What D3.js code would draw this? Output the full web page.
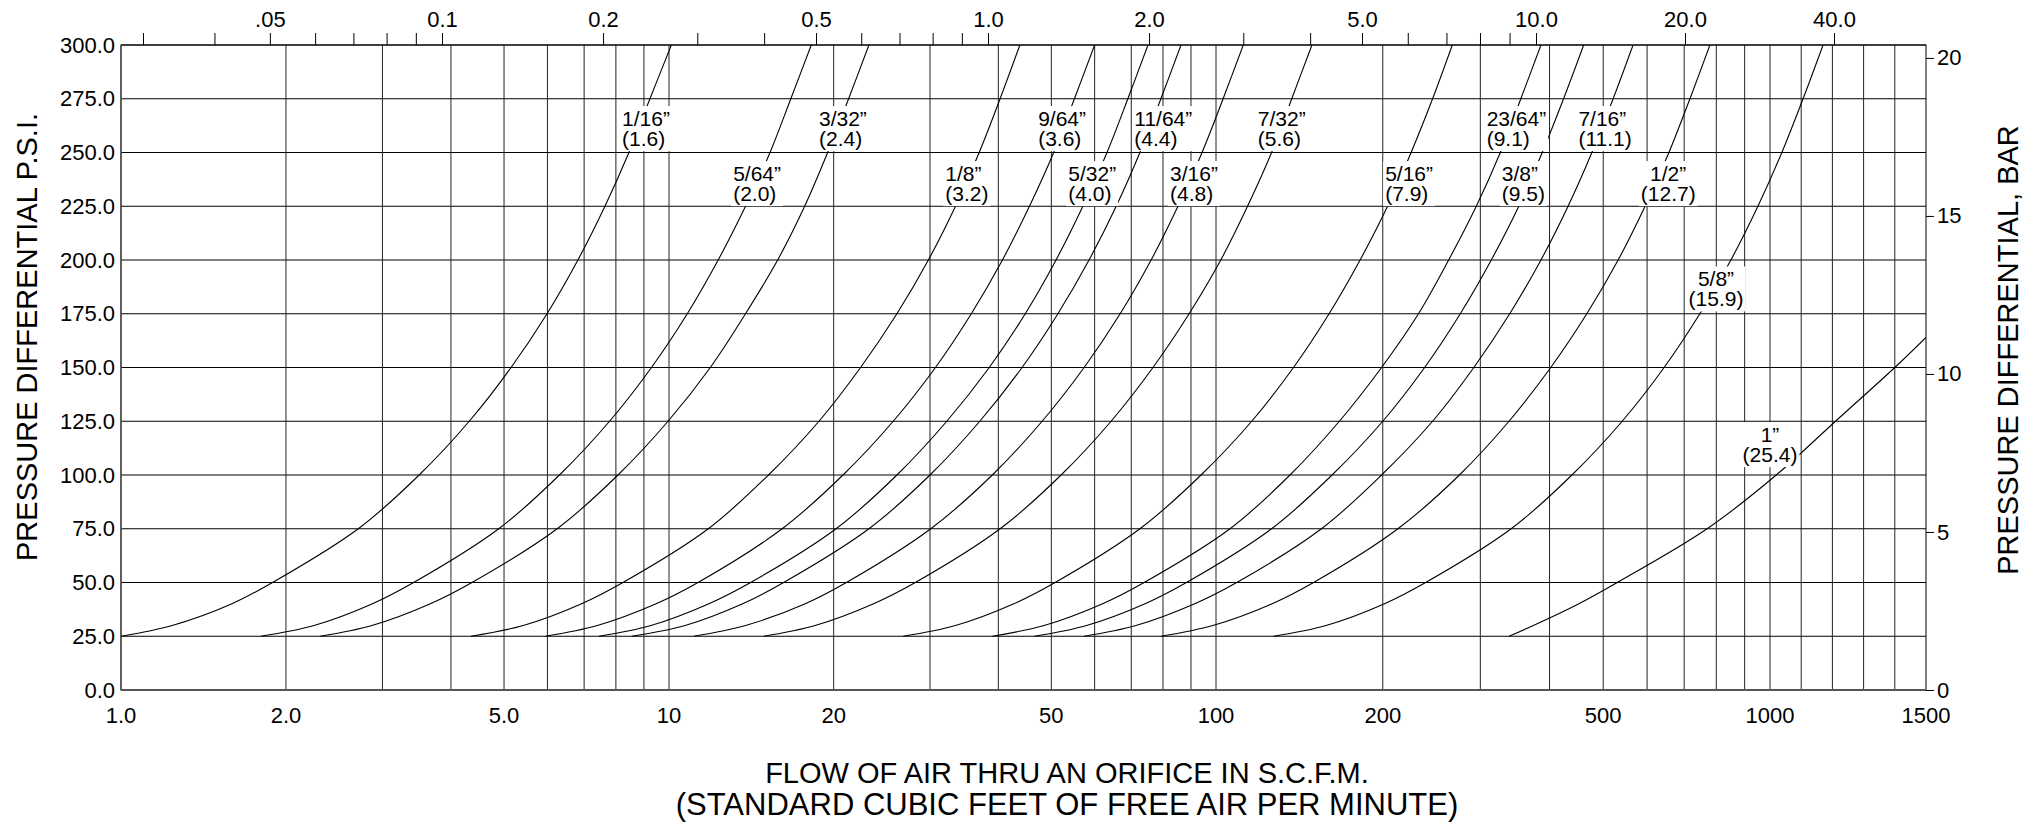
<!DOCTYPE html>
<html>
<head>
<meta charset="utf-8">
<script src="https://cdn.jsdelivr.net/npm/d3@7"></script>
<style>
    body { margin: 0; background: #fff; }
    svg { display: block; }
    text { font-family: "Liberation Sans", Arial, Helvetica, sans-serif; fill: #000; }
</style>
</head>
<body>
<div id="chart"></div>
<script>
var psiLevels = [25, 30, 40, 50, 75, 100, 125, 150, 175, 200, 225, 250, 275, 300];

var orificeSizes = ["1/16”", "5/64”", "3/32”", "1/8”", "9/64”", "5/32”", "11/64”", "3/16”",
    "7/32”", "5/16”", "23/64”", "3/8”", "7/16”", "1/2”", "5/8”", "1”"];
var orificeMM = ["(1.6)", "(2.0)", "(2.4)", "(3.2)", "(3.6)", "(4.0)", "(4.4)", "(4.8)",
    "(5.6)", "(7.9)", "(9.1)", "(9.5)", "(11.1)", "(12.7)", "(15.9)", "(25.4)"];

// flow in SCFM at each psiLevel, one row per orifice
var flows = [
    [1.0, 1.24, 1.59, 1.89, 2.71, 3.5, 4.32, 5.15, 5.99, 6.82, 7.64, 8.45, 9.23, 10.1],
    [1.8, 2.25, 2.87, 3.42, 4.89, 6.31, 7.79, 9.29, 10.8, 12.3, 13.8, 15.3, 16.7, 18.2],
    [2.31, 2.87, 3.66, 4.37, 6.25, 8.07, 9.96, 11.9, 13.8, 15.8, 17.7, 19.5, 21.3, 23.2],
    [4.35, 5.42, 6.91, 8.24, 11.8, 15.2, 18.8, 22.4, 26.1, 29.8, 33.4, 36.9, 40.3, 43.8],
    [5.95, 7.4, 9.45, 11.3, 16.1, 20.8, 25.7, 30.7, 35.7, 40.7, 45.6, 50.5, 55.1, 60.0],
    [7.45, 9.27, 11.8, 14.1, 20.2, 26.1, 32.2, 38.5, 44.8, 51.0, 57.1, 63.2, 69.0, 75.1],
    [8.56, 10.7, 13.6, 16.2, 23.2, 30.0, 37.0, 44.2, 51.4, 58.6, 65.7, 72.6, 79.3, 86.3],
    [11.1, 13.8, 17.7, 21.1, 30.1, 39.0, 48.1, 57.4, 66.8, 76.1, 85.2, 94.3, 103, 112],
    [14.9, 18.5, 23.6, 28.2, 40.3, 52.1, 64.3, 76.7, 89.3, 102, 114, 126, 137, 149],
    [26.8, 33.4, 42.6, 50.8, 72.6, 93.9, 116, 138, 160, 182, 204, 225, 246, 267],
    [39.0, 48.5, 61.9, 73.9, 106, 136, 167, 199, 232, 263, 295, 326, 355, 386],
    [46.6, 58.0, 74.0, 88.3, 126, 162, 200, 238, 276, 314, 352, 388, 424, 461],
    [57.4, 71.4, 91.2, 109, 155, 199, 246, 292, 339, 386, 432, 477, 521, 566],
    [79.4, 98.7, 126, 150, 213, 275, 338, 402, 467, 532, 595, 657, 717, 779],
    [127, 158, 201, 239, 341, 439, 541, 644, 747, 850, 951, 1038, 1106, 1170],
    [338, 374, 451, 530, 770, 1020, 1210, 1400]
];
// the 1" curve runs off the right edge of the grid here [scfm, psi]
var oneInchEdge = [1500, 164];

// where each size label sits: flow (scfm), psi of first text line, alignment
var labelFlow = [8.21, 13.1, 18.8, 32.0, 47.3, 53.7, 70.9, 82.4, 119, 202, 308, 328, 451, 655, 799, 1000];
var labelPsi = [262.3, 236.7, 262.3, 236.7, 262.3, 236.7, 262.3, 236.7, 262.3, 236.7, 262.3, 236.7, 262.3, 236.7, 187.7, 115.3];
var labelAlign = ["start", "start", "start", "start", "start", "start", "start", "start",
    "start", "start", "start", "start", "start", "middle", "middle", "middle"];

// axes
var xGridValues = [2, 3, 4, 5, 6, 7, 8, 9, 10, 20, 30, 40, 50, 60, 70, 80, 90, 100,
    200, 300, 400, 500, 600, 700, 800, 900, 1000, 1100, 1200, 1300, 1400];
var xTickValues = [1, 2, 5, 10, 20, 50, 100, 200, 500, 1000, 1500];
var xTickLabels = ["1.0", "2.0", "5.0", "10", "20", "50", "100", "200", "500", "1000", "1500"];
var psiTicks = [0, 25, 50, 75, 100, 125, 150, 175, 200, 225, 250, 275, 300];
var barTicks = [0, 5, 10, 15, 20];
var m3Ticks = [0.03, 0.04, 0.05, 0.06, 0.07, 0.08, 0.09, 0.1, 0.2, 0.3, 0.4, 0.5, 0.6, 0.7, 0.8, 0.9,
    1, 2, 3, 4, 5, 6, 7, 8, 9, 10, 20, 40];
var m3LabelValues = [0.05, 0.1, 0.2, 0.5, 1, 2, 5, 10, 20, 40];
var m3LabelText = [".05", "0.1", "0.2", "0.5", "1.0", "2.0", "5.0", "10.0", "20.0", "40.0"];


//****** SETUP ******//

var W = 2035, H = 822;
var margin = { top: 45, right: 109, bottom: 132, left: 121 },
    width = W - margin.left - margin.right,
    height = H - margin.top - margin.bottom;

var root = d3.select("#chart")
    .append("svg")
    .attr("width", W)
    .attr("height", H);

var svg = root.append("g")
    .attr("transform", "translate(" + margin.left + "," + margin.top + ")");

// the printed x axis is log up to 1000 and then goes linear to 1500
var xLog = d3.scaleLog().domain([1, 10, 100, 1000]).range([0, 548, 1095, 1649]);
var xLin = d3.scaleLinear().domain([1000, 1500]).range([1649, width]);
function x(v) {
    return v <= 1000 ? xLog(v) : xLin(v);
}

var y = d3.scaleLinear().domain([0, 300]).range([height, 0]);
var yBar = d3.scaleLinear().domain([0, 300 / 14.7]).range([height, 0]);

// top scale (cubic metres per minute) is printed with its own spacing
var xTop = d3.scaleLog()
    .domain([0.03, 0.1, 0.5, 1, 5, 10, 40])
    .range([22, 321, 695, 867, 1241, 1415, 1713]);


//****** GRID ******//

svg.append("g")
    .selectAll("line")
    .data(psiTicks)
    .enter()
    .append("line")
    .attr("x1", 0)
    .attr("x2", width)
    .attr("y1", d => y(d))
    .attr("y2", d => y(d))
    .style("stroke", "#000")
    .style("stroke-width", "1px");

svg.append("g")
    .selectAll("line")
    .data(xGridValues)
    .enter()
    .append("line")
    .attr("x1", d => x(d))
    .attr("x2", d => x(d))
    .attr("y1", 0)
    .attr("y2", height)
    .style("stroke", "#222")
    .style("stroke-width", "1px");

// frame
svg.append("rect")
    .attr("width", width)
    .attr("height", height)
    .style("fill", "none")
    .style("stroke", "#000")
    .style("stroke-width", "1px");
svg.append("line")
    .attr("x1", 0).attr("x2", width)
    .attr("y1", height).attr("y2", height)
    .style("stroke", "#555")
    .style("stroke-width", "2px");
svg.append("line")
    .attr("x1", 0).attr("x2", 0)
    .attr("y1", 0).attr("y2", height)
    .style("stroke", "#555")
    .style("stroke-width", "1.5px");


//****** AXES ******//

var fontSize = "22px";

svg.append("g")
    .attr("class", "axis")
    .call(d3.axisLeft(y).tickValues(psiTicks).tickSize(0).tickPadding(6).tickFormat(d3.format(".1f")))
    .call(g => g.select(".domain").remove())
    .selectAll("text")
    .style("font-size", fontSize)
    .style("font-family", null);

svg.append("g")
    .attr("class", "axis")
    .attr("transform", "translate(" + width + ",0)")
    .call(d3.axisRight(yBar).tickValues(barTicks).tickSize(8).tickPadding(3))
    .call(g => g.select(".domain").remove())
    .selectAll("text")
    .style("font-size", fontSize)
    .style("font-family", null);

svg.append("g")
    .attr("class", "axis")
    .call(d3.axisTop(xTop).tickValues(m3Ticks).tickSize(12).tickSizeOuter(0).tickPadding(6)
        .tickFormat(function(d) {
            var i = m3LabelValues.indexOf(d);
            return i < 0 ? "" : m3LabelText[i];
        }))
    .call(g => g.select(".domain").remove())
    .selectAll("text")
    .style("font-size", fontSize)
    .style("font-family", null);

// bottom labels by hand, the composite x is not a d3 scale
svg.append("g")
    .selectAll("text")
    .data(xTickValues)
    .enter()
    .append("text")
    .attr("x", d => x(d))
    .attr("y", height + 33)
    .style("text-anchor", "middle")
    .style("font-size", fontSize)
    .text((d, i) => xTickLabels[i]);

// axis titles
root.append("text")
    .attr("transform", "translate(27,337) rotate(-90)")
    .attr("dy", "0.36em")
    .style("text-anchor", "middle")
    .style("font-size", "29px")
    .text("PRESSURE DIFFERENTIAL P.S.I.");

root.append("text")
    .attr("transform", "translate(2008,350) rotate(-90)")
    .attr("dy", "0.36em")
    .style("text-anchor", "middle")
    .style("font-size", "29px")
    .text("PRESSURE DIFFERENTIAL, BAR");

root.append("text")
    .attr("x", 1067)
    .attr("y", 783)
    .style("text-anchor", "middle")
    .style("font-size", "29px")
    .text("FLOW OF AIR THRU AN ORIFICE IN S.C.F.M.");

root.append("text")
    .attr("x", 1067)
    .attr("y", 815)
    .style("text-anchor", "middle")
    .style("font-size", "31px")
    .text("(STANDARD CUBIC FEET OF FREE AIR PER MINUTE)");


//****** CURVES ******//

svg.append("clipPath")
    .attr("id", "clip")
    .append("rect")
    .attr("width", width)
    .attr("height", height);

var series = flows.map(function(row, i) {
    var pts = row.map((f, j) => [f, psiLevels[j]]);
    if (i === flows.length - 1) pts.push(oneInchEdge);
    return pts;
});

var valueline = d3.line()
    .curve(d3.curveCatmullRom.alpha(0.5))
    .x(d => x(d[0]))
    .y(d => y(d[1]));

svg.append("g")
    .attr("clip-path", "url(#clip)")
    .selectAll("path")
    .data(series)
    .enter()
    .append("path")
    .attr("d", valueline)
    .style("fill", "none")
    .style("stroke", "#000")
    .style("stroke-width", "1.1px");


//****** SIZE LABELS ******//

var labels = svg.append("g")
    .selectAll("g")
    .data(orificeSizes)
    .enter()
    .append("g")
    .attr("transform", (d, i) => "translate(" + x(labelFlow[i]) + "," + y(labelPsi[i]) + ")");

labels.each(function(d, i) {
    var g = d3.select(this);
    var t = g.append("text")
        .style("font-size", "21px")
        .style("text-anchor", labelAlign[i]);
    t.append("tspan").attr("x", 0).attr("y", 0).text(d);
    t.append("tspan").attr("x", 0).attr("y", 20).text(orificeMM[i]);
    var bb = t.node().getBBox();
    // white box so grid and curve stop at the label
    g.insert("rect", "text")
        .attr("x", bb.x - 2)
        .attr("y", bb.y - 1)
        .attr("width", bb.width + 4)
        .attr("height", bb.height + 2)
        .style("fill", "#fff");
});
</script>
</body>
</html>
